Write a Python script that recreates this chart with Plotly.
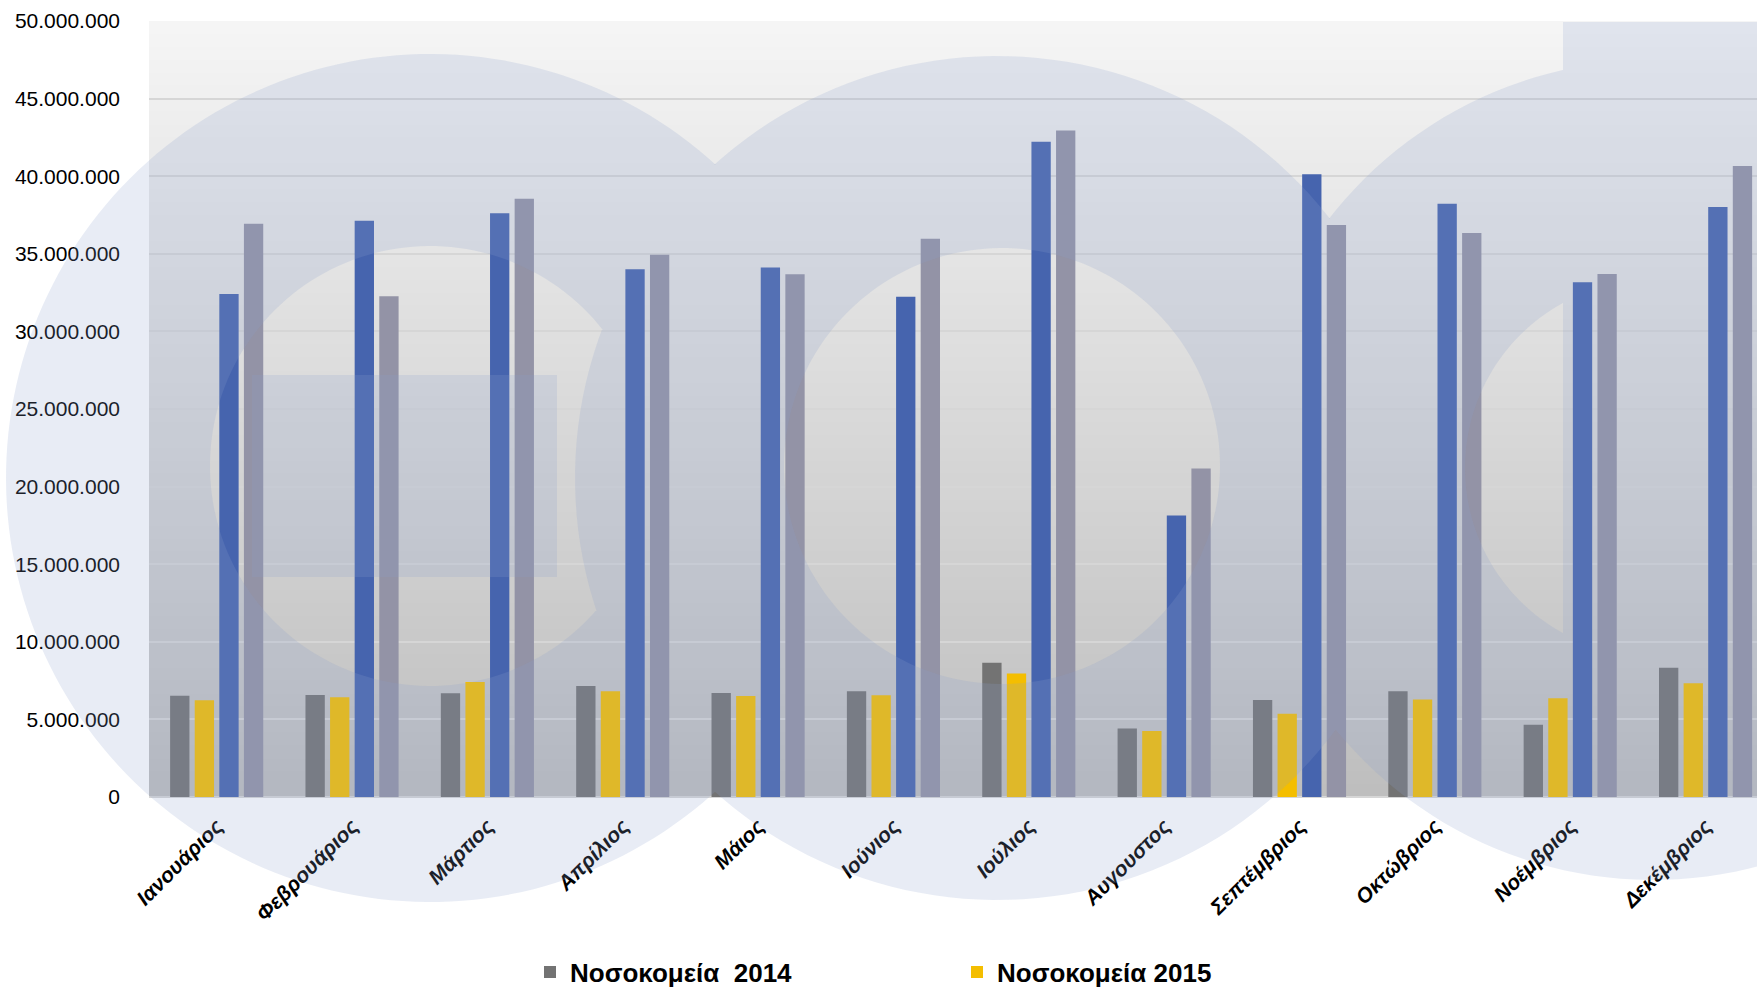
import numpy as np
import plotly.graph_objects as go

months = ["Ιανουάριος", "Φεβρουάριος", "Μάρτιος", "Απρίλιος", "Μάιος", "Ιούνιος",
          "Ιούλιος", "Αυγουστος", "Σεπτέμβριος", "Οκτώβριος", "Νοέμβριος", "Δεκέμβριος"]

hosp_2014 = [6530000, 6570000, 6680000, 7150000, 6700000, 6810000,
             8650000, 4420000, 6250000, 6810000, 4660000, 8330000]
hosp_2015 = [6230000, 6420000, 7410000, 6810000, 6510000, 6550000,
             7950000, 4250000, 5370000, 6290000, 6360000, 7330000]
series3 = [32410000, 37130000, 37610000, 34000000, 34110000, 32240000,
           42220000, 18140000, 40120000, 38230000, 33160000, 38020000]
series4 = [36940000, 32260000, 38550000, 34940000, 33680000, 35970000,
           42950000, 21170000, 36860000, 36340000, 33700000, 40660000]

yticks = [0, 5000000, 10000000, 15000000, 20000000, 25000000,
          30000000, 35000000, 40000000, 45000000, 50000000]

W, H = 1757, 987
L, R, T, B = 149, 0, 21, 190
PW, PH = W - L - R, H - T - B


def px(X):
    return (X - L) / PW


def py(Y):
    return (H - B - Y) / PH


fig = go.Figure()
fig.add_trace(go.Bar(x=months, y=hosp_2014, name="Νοσοκομεία  2014",
                     marker=dict(color="#737373", line=dict(width=0))))
fig.add_trace(go.Bar(x=months, y=hosp_2015, name="Νοσοκομεία 2015",
                     marker=dict(color="#f4be00", line=dict(width=0))))
fig.add_trace(go.Bar(x=months, y=series3, name="Σειρά 3", showlegend=False,
                     marker=dict(color="#4664ae", line=dict(width=0))))
fig.add_trace(go.Bar(x=months, y=series4, name="Σειρά 4", showlegend=False,
                     marker=dict(color="#9393a6", line=dict(width=0))))

shapes = []
# gradient plot background
nb = 60
c_top, c_bot = np.array([245, 245, 245]), np.array([190, 190, 190])
for i in range(nb):
    f = (i + 0.5) / nb
    c = (c_top + (c_bot - c_top) * f).round().astype(int)
    shapes.append(dict(type="rect", xref="paper", yref="paper",
                       x0=0, x1=1, y0=1 - (i + 1) / nb - 0.001, y1=1 - i / nb,
                       fillcolor="rgb(%d,%d,%d)" % tuple(c), line=dict(width=0),
                       layer="below"))


def pts_to_path(pts):
    return "M" + " L".join("%.5f,%.5f" % (px(a), py(b)) for a, b in pts) + " Z"


def arc(cx, cy, r, a0, a1, n):
    t = np.linspace(a0, a1, n)
    return [(cx + r * np.cos(a), cy + r * np.sin(a)) for a in t]


def circle(cx, cy, r, rev=False, n=180):
    if rev:
        return pts_to_path(arc(cx, cy, r, 2 * np.pi, 0, n))
    return pts_to_path(arc(cx, cy, r, 0, 2 * np.pi, n))


def rect(x0, y0, x1, y1):
    return pts_to_path([(x0, y0), (x1, y0), (x1, y1), (x0, y1)])


# watermark geometry (pixel space)
LO = (430, 478, 424)
LH = (430, 466, 220)
MO = (997, 478, 422)
MH = (1002, 466, 218)
RO = (1653, 470, 410)
RH = (1653, 468, 188)

# left outer circle with the middle hole cut out of it
(x1, y1, r1), (x2, y2, r2) = LO, MH
d = np.hypot(x2 - x1, y2 - y1)
a = (r1 ** 2 - r2 ** 2 + d ** 2) / (2 * d)
h = np.sqrt(r1 ** 2 - a ** 2)
ux, uy = (x2 - x1) / d, (y2 - y1) / d
bx, by = x1 + a * ux, y1 + a * uy
P_up = (bx + h * uy, by - h * ux)
P_dn = (bx - h * uy, by + h * ux)
if P_up[1] > P_dn[1]:
    P_up, P_dn = P_dn, P_up
ang1_up = np.arctan2(P_up[1] - y1, P_up[0] - x1)
ang1_dn = np.arctan2(P_dn[1] - y1, P_dn[0] - x1)
ang2_up = np.arctan2(P_up[1] - y2, P_up[0] - x2) % (2 * np.pi)
ang2_dn = np.arctan2(P_dn[1] - y2, P_dn[0] - x2) % (2 * np.pi)
left_outer = arc(x1, y1, r1, ang1_dn, ang1_up + 2 * np.pi, 200) + \
    arc(x2, y2, r2, ang2_up, ang2_dn, 40)[1:-1]

wm = " ".join([
    pts_to_path(left_outer), circle(*LH, rev=True), rect(252, 375, 557, 577),
    circle(*MO), circle(*MH, rev=True),
    circle(*RO), rect(1563, 22, 1770, 720), circle(*RH, rev=True),
])
shapes.append(dict(type="path", xref="paper", yref="paper", path=wm, fillrule="nonzero",
                   fillcolor="rgba(140,160,205,0.2)", line=dict(width=0), layer="above"))

fig.update_layout(
    width=W, height=H,
    margin=dict(l=L, r=R, t=T, b=B, autoexpand=False),
    paper_bgcolor="white", plot_bgcolor="rgba(0,0,0,0)",
    barmode="group", bargap=0.273, bargroupgap=0.215,
    separators=",.",
    shapes=shapes,
    legend=dict(orientation="h", x=px(530), xanchor="left", y=py(972), yanchor="middle",
                font=dict(family="Liberation Sans", size=26, color="black", weight="bold"),
                entrywidth=382, bgcolor="rgba(0,0,0,0)"),
    xaxis=dict(range=[-0.5, 11.38], tickangle=-45, showgrid=False, showline=False,
               ticks="", ticklabelstandoff=12,
               tickfont=dict(family="Liberation Sans", size=21, color="black",
                             weight="bold", style="italic")),
    yaxis=dict(range=[0, 50000000], tickvals=yticks, tickformat=",d",
               showgrid=True, gridcolor="#d6d6d6", gridwidth=1.5,
               zeroline=True, zerolinecolor="#d6d6d6", zerolinewidth=1.5,
               showline=False, ticks="", ticklabelstandoff=28,
               tickfont=dict(family="Liberation Sans", size=21, color="black")),
)

fig.write_html("out.html", config={"displayModeBar": False},
               post_script="document.body.style.margin='0px';")
